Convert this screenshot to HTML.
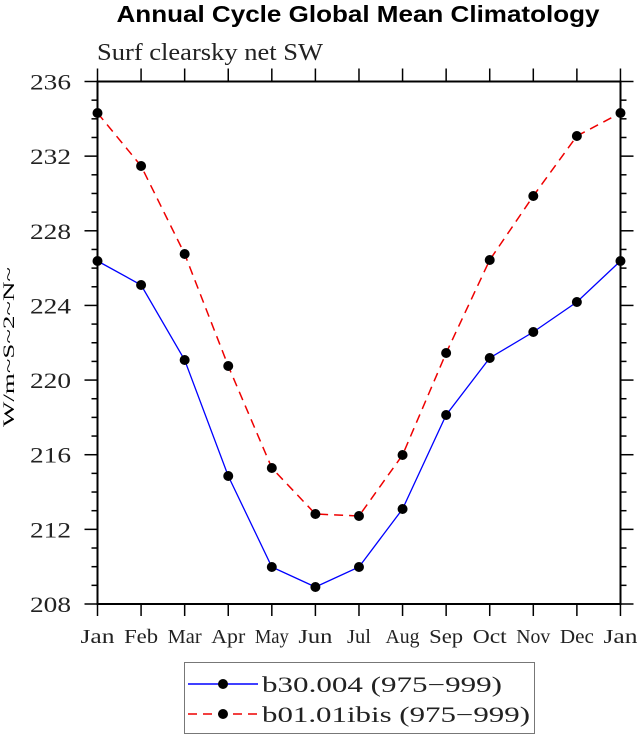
<!DOCTYPE html>
<html><head><meta charset="utf-8"><style>
html,body{margin:0;padding:0;background:#fff;width:637px;height:734px;overflow:hidden}
svg{display:block}
</style></head><body>
<svg id="s" width="637" height="734" xmlns="http://www.w3.org/2000/svg" font-family="Liberation Serif, serif">
<text x="358" y="22" text-anchor="middle" font-family="Liberation Sans, sans-serif" font-weight="bold" font-size="23" textLength="483" lengthAdjust="spacingAndGlyphs">Annual Cycle Global Mean Climatology</text>
<text x="97" y="60" font-size="24" textLength="226" lengthAdjust="spacingAndGlyphs" fill="#222">Surf clearsky net SW</text>
<text transform="translate(14,347) rotate(-90)" text-anchor="middle" font-size="16" textLength="160" lengthAdjust="spacingAndGlyphs">W/m~S~2~N~</text>
<rect x="97.5" y="81.5" width="523" height="522.5" fill="none" stroke="#000" stroke-width="2"/>
<g id="ticks" stroke="#000" stroke-width="1.5"></g>
<g id="labels" font-size="19" fill="#222"></g>
<polyline id="red" fill="none" stroke="#e00" stroke-width="1.5" stroke-dasharray="9,6"/>
<polyline id="blue" fill="none" stroke="#00f" stroke-width="1.3"/>
<g id="dots"></g>
<rect x="184.5" y="662.5" width="350" height="71" fill="none" stroke="#777" stroke-width="1"/>
<line x1="188" y1="684" x2="258" y2="684" stroke="#00f" stroke-width="1.5"/>
<circle cx="223" cy="684" r="5"/>
<text x="262" y="692" font-size="22" textLength="240" lengthAdjust="spacingAndGlyphs" fill="#222">b30.004 (975−999)</text>
<line x1="188" y1="714" x2="258" y2="714" stroke="#e00" stroke-width="1.5" stroke-dasharray="9,6"/>
<circle cx="223" cy="714" r="5"/>
<text x="262" y="722" font-size="22" textLength="268" lengthAdjust="spacingAndGlyphs" fill="#222">b01.01ibis (975−999)</text>
</svg>
<script>
var NS="http://www.w3.org/2000/svg";
function el(p,t,a,txt){var e=document.createElementNS(NS,t);for(var k in a)e.setAttribute(k,a[k]);if(txt)e.textContent=txt;document.getElementById(p).appendChild(e);return e;}
var x0=97.5,dx=43.58,yTop=81.5,yBot=604,ppu=(yBot-yTop)/28;
function Y(v){return yBot-(v-208)*ppu;}
var m=["Jan","Feb","Mar","Apr","May","Jun","Jul","Aug","Sep","Oct","Nov","Dec","Jan"];
for(var i=0;i<13;i++){var x=x0+i*dx;
 el("ticks","line",{x1:x,y1:yBot,x2:x,y2:yBot+12});
 el("ticks","line",{x1:x,y1:yTop,x2:x,y2:yTop-13});
 el("labels","text",{x:x,y:643,"text-anchor":"middle","font-size":"20",textLength:(m[i]=="Jul"?"24":"34"),lengthAdjust:"spacingAndGlyphs"},m[i]);}
for(var v=208;v<=236;v++){var y=Y(v),L=(v%4==0)?13:6;
 el("ticks","line",{x1:x0,y1:y,x2:x0-L,y2:y});
 el("ticks","line",{x1:620.5,y1:y,x2:620.5+L,y2:y});
 if(v%4==0)el("labels","text",{x:71,y:y+8,"text-anchor":"end","font-size":"22",textLength:"41",lengthAdjust:"spacingAndGlyphs"},String(v));}
var b=[261,285,360,476,567,587,567,509,415,358,332,302,261];
var r=[113,166,254,366,468,514,516,455,353,260,196,136,113];
function pts(a){return a.map(function(y,i){return (x0+i*dx)+","+y}).join(" ");}
document.getElementById("blue").setAttribute("points",pts(b));
document.getElementById("red").setAttribute("points",pts(r));
b.concat(r).forEach(function(y,j){el("dots","circle",{cx:x0+(j%13)*dx,cy:y,r:5});});
</script>
</body></html>
